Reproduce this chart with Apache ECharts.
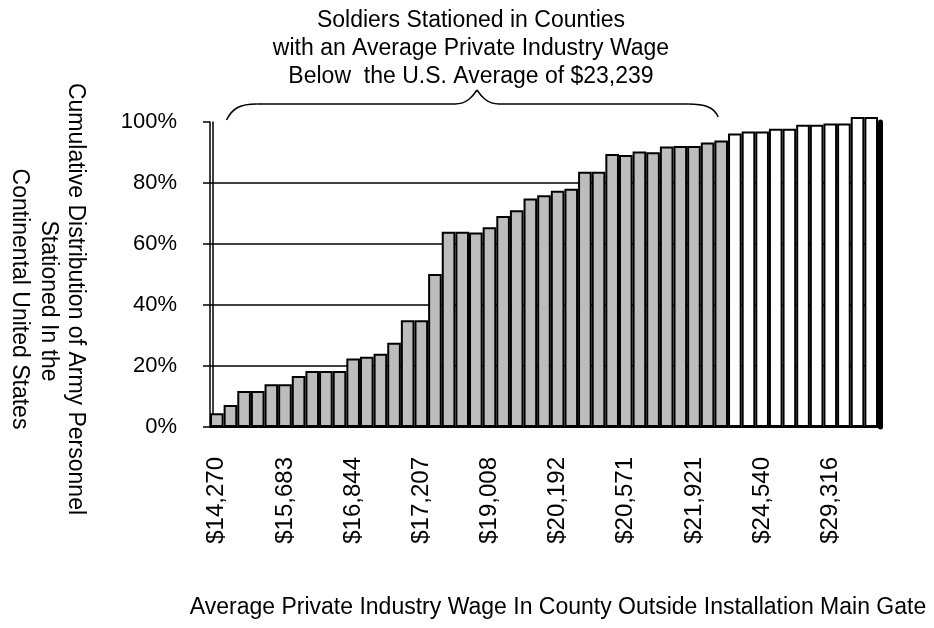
<!DOCTYPE html>
<html>
<head>
<meta charset="utf-8">
<script src="https://cdn.jsdelivr.net/npm/echarts@6/dist/echarts.min.js"></script>
<style>
  html, body { margin: 0; background: #fff; }
  #chart { width: 934px; height: 628px; }
</style>
</head>
<body>
<div id="chart"></div>
<script>
// labelled wages, one every 5th county
const wageTicks = ['$14,270', '$15,683', '$16,844', '$17,207', '$19,008',
  '$20,192', '$20,571', '$21,921', '$24,540', '$29,316'];

// cumulative share of army personnel (%), counties sorted by wage
const cumulativePct = [
  4.5, 7.2, 11.8, 11.8, 14.0, 14.0, 16.7, 18.4, 18.4, 18.4,
  22.5, 23.0, 24.0, 27.6, 35.0, 35.0, 50.2, 64.0, 64.0, 63.8,
  65.5, 69.2, 71.1, 74.9, 76.0, 77.5, 78.1, 83.7, 83.7, 89.5,
  89.2, 90.3, 90.1, 92.0, 92.1, 92.1, 93.3, 93.9, 96.2, 96.9,
  96.9, 97.8, 97.8, 99.1, 99.1, 99.5, 99.5, 101.6, 101.6
];

// counties below the U.S. average wage of $23,239
const belowAvgCount = 38;

const categories = cumulativePct.map((v, i) =>
  i % 5 === 0 ? wageTicks[i / 5] : 'county ' + (i + 1));

const font = 'Liberation Sans, Arial, sans-serif';

const chart = echarts.init(document.getElementById('chart'));

chart.setOption({
  animation: false,
  backgroundColor: '#fff',
  textStyle: { fontFamily: font, color: '#000' },
  title: {
    text: 'Soldiers Stationed in Counties\nwith an Average Private Industry Wage\nBelow  the U.S. Average of $23,239',
    left: 466,
    top: 2,
    textAlign: 'center',
    textStyle: { fontFamily: font, fontSize: 23, fontWeight: 'normal', color: '#000', lineHeight: 28 }
  },
  grid: { left: 210, right: 56, top: 122, bottom: 201, outerBoundsMode: 'none' },
  xAxis: {
    type: 'category',
    data: categories,
    boundaryGap: true,
    axisLine: { lineStyle: { color: '#000', width: 2 } },
    axisTick: { interval: 0, length: 8, lineStyle: { color: '#000', width: 1.5 } },
    axisLabel: { interval: 4, rotate: 90, margin: 30, fontSize: 24, color: '#000', fontFamily: font }
  },
  yAxis: [
    {
      type: 'value',
      min: 0,
      max: 100,
      interval: 20,
      axisLine: { show: true, lineStyle: { color: '#000', width: 1.5 } },
      axisTick: { show: true, length: 7, lineStyle: { color: '#000', width: 1.5 } },
      axisLabel: { formatter: '{value}%', fontSize: 22, margin: 33, color: '#000', fontFamily: font },
      splitLine: { show: true, showMaxLine: false, lineStyle: { color: '#000', width: 1.5 } }
    },
    {
      // the doubled left edge
      type: 'value', position: 'left', offset: -3, min: 0, max: 100,
      axisLine: { show: true, lineStyle: { color: '#000', width: 1.5 } },
      axisTick: { show: false }, axisLabel: { show: false }, splitLine: { show: false }
    },
    {
      type: 'value', position: 'right', offset: 2, min: 0, max: 100,
      axisLine: { show: true, lineStyle: { color: '#000', width: 5 } },
      axisTick: { show: false }, axisLabel: { show: false }, splitLine: { show: false }
    }
  ],
  series: [{
    type: 'bar',
    data: cumulativePct,
    barCategoryGap: 0,
    clip: false,
    itemStyle: {
      color: (p) => p.dataIndex < belowAvgCount ? '#bdbdbd' : '#fff',
      borderColor: '#000',
      borderWidth: 2
    }
  }]
});

// curly brace over the below-average counties
const braceParts = () => {
  const yLine = chart.convertToPixel({ yAxisIndex: 0 }, 100) - 18;
  const yEnd = yLine + 16;
  const xL = chart.convertToPixel({ xAxisIndex: 0 }, 1) - 4;
  const xR = chart.convertToPixel({ xAxisIndex: 0 }, belowAvgCount - 1) - 3;
  const xM = 477;
  const tip = yLine - 14;
  const st = { fill: null, stroke: '#000', lineWidth: 1.5 };
  return [
    { type: 'bezierCurve', shape: { x1: xL, y1: yEnd, cpx1: xL + 6, cpy1: yLine + 4, cpx2: xL + 14, cpy2: yLine, x2: xL + 30, y2: yLine }, style: st },
    { type: 'line', shape: { x1: xL + 30, y1: yLine, x2: xM - 22, y2: yLine }, style: st },
    { type: 'bezierCurve', shape: { x1: xM - 22, y1: yLine, cpx1: xM - 10, cpy1: yLine, cpx2: xM - 4, cpy2: tip + 6, x2: xM, y2: tip }, style: st },
    { type: 'bezierCurve', shape: { x1: xM, y1: tip, cpx1: xM + 4, cpy1: tip + 6, cpx2: xM + 10, cpy2: yLine, x2: xM + 22, y2: yLine }, style: st },
    { type: 'line', shape: { x1: xM + 22, y1: yLine, x2: xR - 30, y2: yLine }, style: st },
    { type: 'bezierCurve', shape: { x1: xR - 30, y1: yLine, cpx1: xR - 14, cpy1: yLine, cpx2: xR - 4, cpy2: yLine + 3, x2: xR, y2: yEnd - 3 }, style: st }
  ];
};

const titleText = (text, x, y, rot) => ({
  type: 'text', x: x, y: y, rotation: rot,
  style: { text: text, font: '23px ' + font, fill: '#000', align: 'center', verticalAlign: 'middle' }
});

chart.setOption({
  graphic: braceParts().concat([
    titleText('Average Private Industry Wage In County Outside Installation Main Gate', 558, 608, 0),
    titleText('Cumulative Distribution of Army Personnel', 75, 299, -Math.PI / 2),
    titleText('Stationed In the', 48, 301, -Math.PI / 2),
    titleText('Continental United States', 19, 299, -Math.PI / 2)
  ])
});
</script>
</body>
</html>
